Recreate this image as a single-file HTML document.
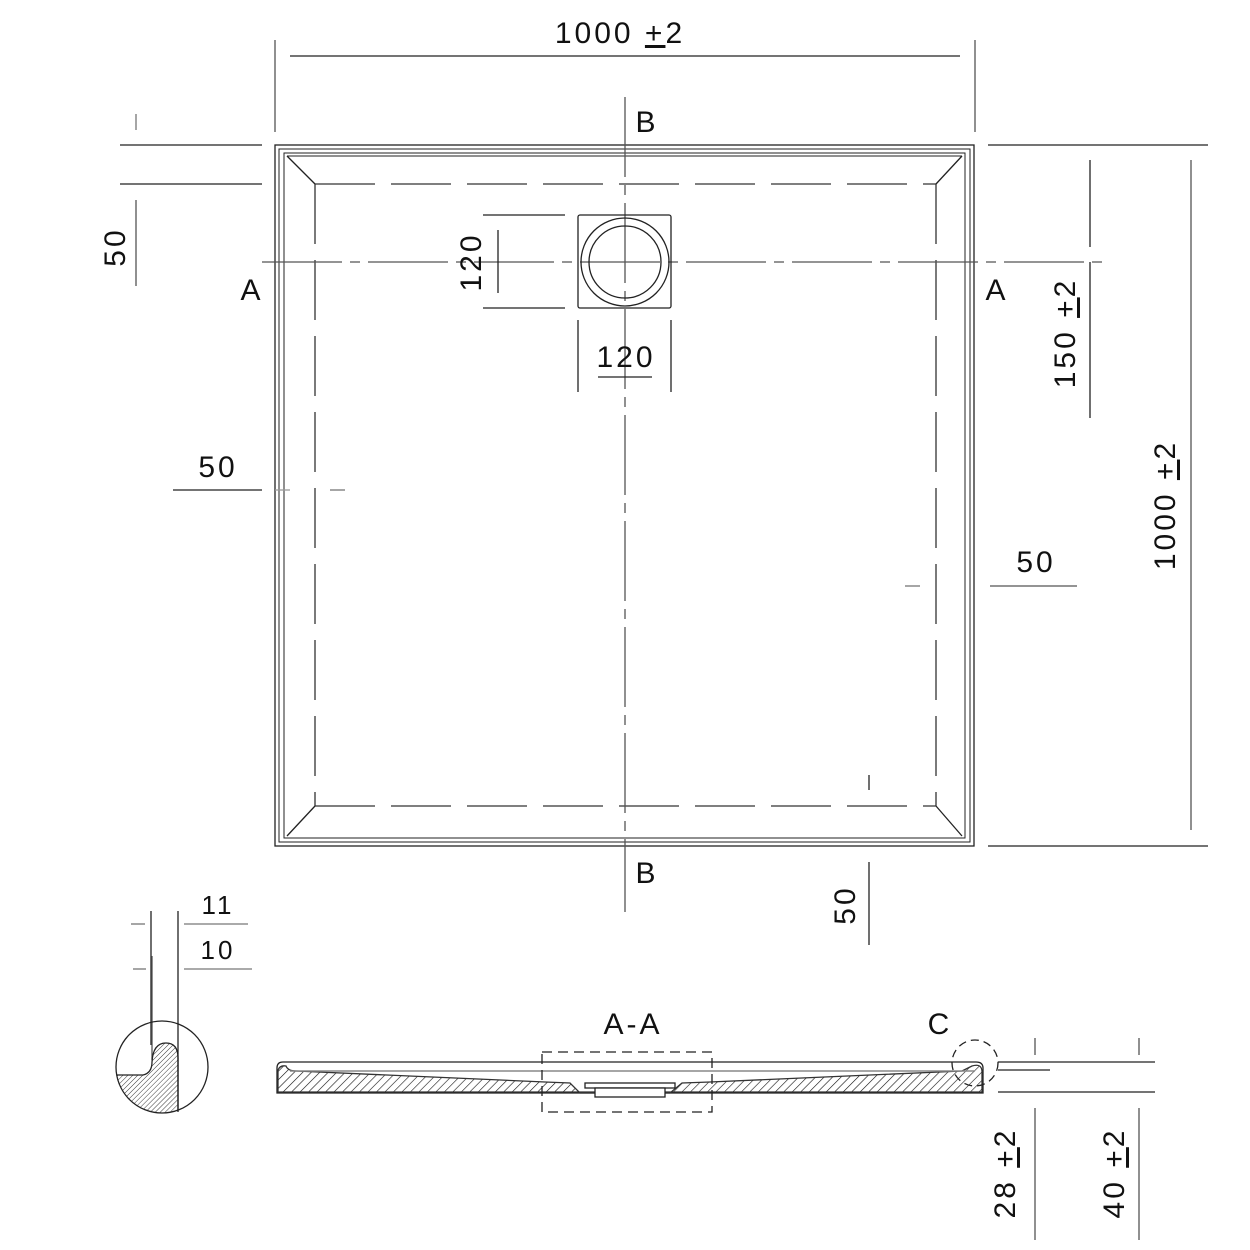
<!DOCTYPE html>
<html><head><meta charset="utf-8"><style>
html,body{margin:0;padding:0;background:#fff;}
svg{display:block}
text{font-family:"Liberation Sans",sans-serif;font-size:30px;fill:#111;letter-spacing:3px;}
</style></head><body>
<svg width="1250" height="1250" viewBox="0 0 1250 1250" xmlns="http://www.w3.org/2000/svg">
<defs>
<pattern id="h" width="6" height="6" patternUnits="userSpaceOnUse" patternTransform="rotate(45)">
<line x1="0" y1="0" x2="0" y2="6" stroke="#111" stroke-width="1.2"/>
</pattern>
<pattern id="h2" width="3.5" height="3.5" patternUnits="userSpaceOnUse" patternTransform="rotate(45)">
<line x1="0" y1="0" x2="0" y2="3.5" stroke="#222" stroke-width="0.9"/>
</pattern>
<clipPath id="cc"><circle cx="162" cy="1067" r="46"/></clipPath>
</defs>
<g stroke="#222" fill="none" stroke-width="1.3">
<rect x="275" y="145" width="699" height="701"/>
<rect x="279" y="149" width="691" height="693" stroke-width="1"/>
<rect x="284" y="153" width="681" height="685" stroke-width="1"/>
<line x1="287" y1="156" x2="962" y2="156" stroke-width="1"/>
<line x1="287" y1="156" x2="315" y2="184"/>
<line x1="962" y1="156" x2="936" y2="184"/>
<line x1="287" y1="836" x2="315" y2="806"/>
<line x1="962" y1="836" x2="936" y2="806"/>
<g stroke-dasharray="60,16" stroke="#333">
<line x1="315" y1="184" x2="936" y2="184"/>
<line x1="315" y1="806" x2="936" y2="806"/>
<line x1="315" y1="184" x2="315" y2="806"/>
<line x1="936" y1="184" x2="936" y2="806"/>
</g>
<line x1="625" y1="97" x2="625" y2="912" stroke="#555" stroke-dasharray="80,8,10,8"/>
<line x1="262" y1="262" x2="1105" y2="262" stroke="#555" stroke-dasharray="80,8,10,8"/>
<rect x="578" y="215" width="93" height="93" rx="2"/>
<circle cx="625" cy="262" r="44"/>
<circle cx="625" cy="262" r="36"/>
<line x1="275" y1="40" x2="275" y2="132" stroke="#555"/>
<line x1="975" y1="40" x2="975" y2="132" stroke="#555"/>
<line x1="290" y1="56" x2="960" y2="56"/>
<line x1="120" y1="145" x2="262" y2="145"/>
<line x1="120" y1="184" x2="262" y2="184"/>
<line x1="136" y1="114" x2="136" y2="130" stroke="#777"/>
<line x1="136" y1="200" x2="136" y2="286" stroke="#555"/>
<line x1="173" y1="490" x2="262" y2="490"/>
<line x1="275" y1="490" x2="290" y2="490" stroke="#999"/>
<line x1="330" y1="490" x2="345" y2="490" stroke="#777"/>
<line x1="483" y1="215" x2="565" y2="215"/>
<line x1="483" y1="308" x2="565" y2="308"/>
<line x1="498" y1="230" x2="498" y2="293"/>
<line x1="578" y1="320" x2="578" y2="392"/>
<line x1="671" y1="320" x2="671" y2="392"/>
<line x1="598" y1="377" x2="652" y2="377"/>
<line x1="988" y1="145" x2="1208" y2="145"/>
<line x1="988" y1="846" x2="1208" y2="846"/>
<line x1="1191" y1="160" x2="1191" y2="830" stroke="#555"/>
<line x1="1090" y1="160" x2="1090" y2="247"/>
<line x1="1090" y1="262" x2="1090" y2="418"/>
<line x1="990" y1="586" x2="1077" y2="586" stroke="#555"/>
<line x1="905" y1="586" x2="920" y2="586" stroke="#777"/>
<line x1="869" y1="862" x2="869" y2="945"/>
<line x1="869" y1="775" x2="869" y2="790"/>
<line x1="131" y1="924" x2="145" y2="924" stroke="#777"/>
<line x1="133" y1="969" x2="146" y2="969" stroke="#777"/>
<line x1="184" y1="924" x2="248" y2="924" stroke="#777"/>
<line x1="184" y1="969" x2="252" y2="969" stroke="#777"/>
<line x1="151" y1="911" x2="151" y2="1045"/>
<line x1="152" y1="956" x2="152" y2="1060" stroke="#555"/>
<line x1="178" y1="911" x2="178" y2="1112"/>
<g clip-path="url(#cc)">
<path d="M110 1075 L143 1075 Q152 1073 152 1062 Q153 1043 166 1043 Q178 1043 178 1058 L178 1120 L110 1120 Z" fill="url(#h2)" stroke="#222"/>
</g>
<circle cx="162" cy="1067" r="46"/>
<path d="M277 1093 L277 1068 Q277 1062 283 1062 L976 1062 Q983 1062 983 1068 L983 1093 Z"/>
<path d="M278 1092 L278 1070 Q280 1065 286 1066 Q288 1071 296 1071 L545 1082 L570 1083 L580 1093 L670 1093 L682 1083 L710 1082 L962 1071 L972 1066 Q982 1063 982 1072 L982 1092 Z" fill="url(#h)" stroke="#333"/>
<line x1="290" y1="1071" x2="975" y2="1071" stroke="#888" stroke-width="1.5"/>
<rect x="585" y="1083" width="90" height="5" fill="#fff"/>
<rect x="595" y="1088" width="70" height="9" fill="#fff"/>
<rect x="542" y="1052" width="170" height="60" stroke-dasharray="10,6"/>
<circle cx="975" cy="1063" r="23" stroke-dasharray="8,5"/>
<line x1="998" y1="1062" x2="1155" y2="1062"/>
<line x1="998" y1="1070" x2="1050" y2="1070"/>
<line x1="998" y1="1092" x2="1155" y2="1092"/>
<line x1="1035" y1="1038" x2="1035" y2="1055" stroke="#555"/>
<line x1="1139" y1="1038" x2="1139" y2="1055" stroke="#555"/>
<line x1="1035" y1="1108" x2="1035" y2="1240" stroke="#555"/>
<line x1="1139" y1="1108" x2="1139" y2="1240" stroke="#555"/>
</g>
<text x="620" y="43" text-anchor="middle">1000 <tspan text-decoration="underline">+</tspan>2</text>
<text x="647" y="132" text-anchor="middle">B</text>
<text x="647" y="883" text-anchor="middle">B</text>
<text x="252" y="300" text-anchor="middle">A</text>
<text x="997" y="300" text-anchor="middle">A</text>
<text x="218" y="477" text-anchor="middle">50</text>
<text x="1036" y="572" text-anchor="middle">50</text>
<text x="626" y="367" text-anchor="middle">120</text>
<text transform="translate(125,247) rotate(-90)" text-anchor="middle">50</text>
<text transform="translate(481,262) rotate(-90)" text-anchor="middle">120</text>
<text transform="translate(1075,333) rotate(-90)" text-anchor="middle">150 <tspan text-decoration="underline">+</tspan>2</text>
<text transform="translate(1175,505) rotate(-90)" text-anchor="middle">1000 <tspan text-decoration="underline">+</tspan>2</text>
<text transform="translate(855,905) rotate(-90)" text-anchor="middle">50</text>
<text x="218" y="914" text-anchor="middle" style="font-size:26px">11</text>
<text x="218" y="959" text-anchor="middle" style="font-size:26px">10</text>
<text x="633" y="1034" text-anchor="middle">A-A</text>
<text x="940" y="1034" text-anchor="middle">C</text>
<text transform="translate(1015,1173) rotate(-90)" text-anchor="middle">28 <tspan text-decoration="underline">+</tspan>2</text>
<text transform="translate(1124,1173) rotate(-90)" text-anchor="middle">40 <tspan text-decoration="underline">+</tspan>2</text>
</svg>
</body></html>
